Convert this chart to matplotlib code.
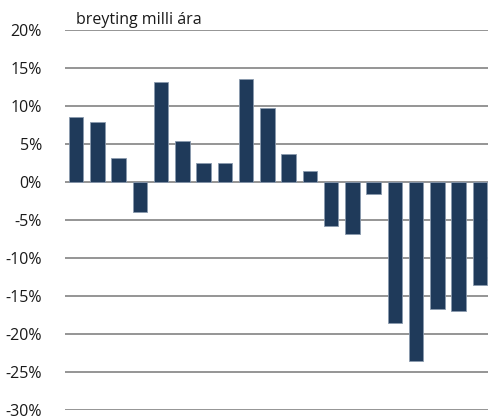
import matplotlib
matplotlib.use("Agg")
import matplotlib.pyplot as plt
from matplotlib.ticker import FuncFormatter

plt.rcParams['font.family'] = ['Open Sans', 'DejaVu Sans']

title = "breyting milli ára"
values = [8.5, 7.9, 3.1, -4.0, 13.2, 5.4, 2.45, 2.5, 13.6, 9.7,
          3.7, 1.5, -5.8, -6.9, -1.6, -18.5, -23.6, -16.7, -17.0, -13.5]
yticks = [20, 15, 10, 5, 0, -5, -10, -15, -20, -25, -30]

W, H = 489, 416
fig = plt.figure(figsize=(W / 100, H / 100), dpi=100)
left, right, top, bottom = 65.5, 490.5, 30, 410
ax = fig.add_axes([left / W, 1 - bottom / H, (right - left) / W, (bottom - top) / H])

x = list(range(len(values)))
ax.bar(x, values, width=0.69, color='#1F3A5A', edgecolor='#8A9AAE', linewidth=0.6, zorder=3)
ax.set_xlim(-0.5, len(values) - 0.5)
ax.set_ylim(-30, 20)
ax.set_yticks(yticks)
ax.yaxis.set_major_formatter(FuncFormatter(lambda v, p: f"{int(v)}%"))
ax.grid(axis='y', color='#8C8C8C', linewidth=1.3, zorder=0)
ax.set_axisbelow(True)
for s in ax.spines.values():
    s.set_visible(False)
ax.tick_params(axis='y', length=0, pad=17, labelsize=11.5, labelcolor='#1a1a1a')
ax.tick_params(axis='x', length=0, labelbottom=False)

fig.text(76 / W, 1 - 24 / H, title, fontsize=11.5, color='#1a1a1a', ha='left', va='baseline')

fig.savefig("out.png", dpi=100)
